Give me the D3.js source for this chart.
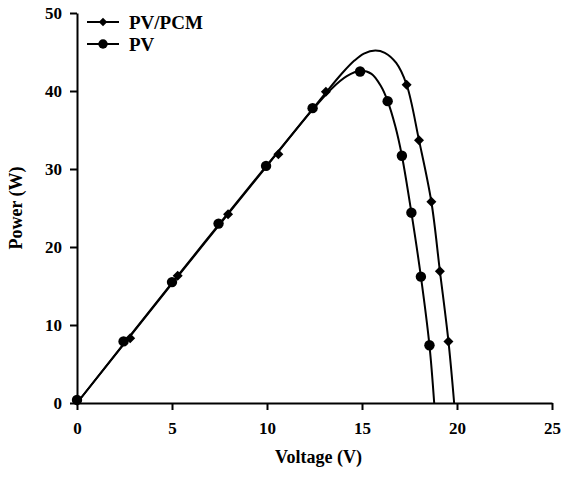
<!DOCTYPE html>
<html>
<head>
<meta charset="utf-8">
<script src="https://cdn.jsdelivr.net/npm/d3@7"></script>
<style>
  body { margin: 0; background: #fff; }
  svg text { font-family: "Liberation Serif", "Times New Roman", Times, serif; font-weight: bold; fill: #000; }
</style>
</head>
<body>
<div id="container"></div>
<script>
// measured points (markers)
const pvVoltage = [0, 2.45, 5.0, 7.45, 9.95, 12.4, 14.9, 16.35, 17.1, 17.6, 18.1, 18.55];
const pvPower = [0.4, 7.9, 15.5, 23.0, 30.4, 37.8, 42.5, 38.7, 31.7, 24.4, 16.2, 7.4];
const pcmVoltage = [0, 2.8, 5.3, 7.95, 10.6, 13.1, 17.35, 18.0, 18.65, 19.1, 19.55];
const pcmPower = [0.3, 8.3, 16.3, 24.2, 31.9, 39.9, 40.8, 33.7, 25.8, 16.9, 7.9];

// fitted curves
const pvFitV = [0, 5, 10, 12.4, 13.4, 14.2, 14.9, 15.5, 16.0, 16.35, 16.75, 17.1, 17.6, 18.1, 18.55, 18.8];
const pvFitP = [0, 15.3, 30.4, 37.6, 40.3, 41.9, 42.6, 42.2, 40.6, 38.7, 35.5, 31.7, 24.4, 16.2, 7.4, 0];
const pcmFitV = [0, 5, 10, 13.1, 14.0, 14.6, 15.1, 15.7, 16.2, 16.8, 17.35, 18.0, 18.65, 19.1, 19.55, 19.85];
const pcmFitP = [0, 15.4, 30.5, 39.8, 42.4, 43.9, 44.8, 45.2, 44.9, 43.6, 40.8, 33.7, 25.8, 16.9, 7.9, 0];

const xTicks = [0, 5, 10, 15, 20, 25];
const yTicks = [0, 10, 20, 30, 40, 50];
const seriesNames = ['PV/PCM', 'PV'];

const margin = { top: 13, right: 11, bottom: 78, left: 77 },
  width = 563 - margin.left - margin.right,
  height = 481 - margin.top - margin.bottom;

const svg = d3.select('#container').append('svg')
  .attr('width', 563)
  .attr('height', 481);

const g = svg.append('g')
  .attr('transform', 'translate(' + margin.left + ',' + margin.top + ')');

const x = d3.scaleLinear().domain([0, 25]).range([0, width]);
const y = d3.scaleLinear().domain([0, 50]).range([height, 0]);

const xAxis = g.append('g')
  .attr('transform', 'translate(0,' + height + ')')
  .call(d3.axisBottom(x).tickValues(xTicks).tickSize(7).tickPadding(12).tickSizeOuter(0));
const yAxis = g.append('g')
  .call(d3.axisLeft(y).tickValues(yTicks).tickSize(7).tickPadding(8).tickSizeOuter(0));

[xAxis, yAxis].forEach(function (a) {
  a.attr('font-family', null).attr('font-size', null);
  a.select('.domain').attr('stroke', '#000').attr('stroke-width', 2);
  a.selectAll('.tick line').attr('stroke', '#000').attr('stroke-width', 2);
  a.selectAll('.tick text')
    .style('font-size', '17px')
    .attr('fill', '#000');
});

g.append('text')
  .attr('x', width / 2 + 4)
  .attr('y', height + 60)
  .attr('text-anchor', 'middle')
  .style('font-size', '18px')
  .text('Voltage (V)');

g.append('text')
  .attr('transform', 'translate(' + (22 - margin.left) + ',' + (height / 2) + ') rotate(-90)')
  .attr('text-anchor', 'middle')
  .style('font-size', '18px')
  .text('Power (W)');

const line = d3.line()
  .x(d => x(d[0]))
  .y(d => y(d[1]))
  .curve(d3.curveCatmullRom.alpha(0.5));

const pcmFit = pcmFitV.map((v, i) => [v, pcmFitP[i]]);
const pvFit = pvFitV.map((v, i) => [v, pvFitP[i]]);

[pcmFit, pvFit].forEach(function (d) {
  g.append('path')
    .datum(d)
    .attr('fill', 'none')
    .attr('stroke', '#000')
    .attr('stroke-width', 2)
    .attr('d', line);
});

const diamond = d3.symbol().type(d3.symbolSquare).size(50);
const circle = d3.symbol().type(d3.symbolCircle).size(85);

g.selectAll('.pcm')
  .data(pcmVoltage.map((v, i) => [v, pcmPower[i]]))
  .enter().append('path')
  .attr('class', 'pcm')
  .attr('d', diamond)
  .attr('transform', d => 'translate(' + x(d[0]) + ',' + y(d[1]) + ') rotate(45)');

g.selectAll('.pv')
  .data(pvVoltage.map((v, i) => [v, pvPower[i]]))
  .enter().append('path')
  .attr('class', 'pv')
  .attr('d', circle)
  .attr('transform', d => 'translate(' + x(d[0]) + ',' + y(d[1]) + ')');

// legend
const legend = svg.append('g').attr('transform', 'translate(87,0)');
const legendY = [22, 44];
const legendSym = [d3.symbol().type(d3.symbolSquare).size(36), d3.symbol().type(d3.symbolCircle).size(70)];

seriesNames.forEach(function (name, i) {
  const row = legend.append('g').attr('transform', 'translate(0,' + legendY[i] + ')');
  row.append('line')
    .attr('x1', 0).attr('x2', 32)
    .attr('stroke', '#000').attr('stroke-width', 2);
  row.append('path')
    .attr('d', legendSym[i])
    .attr('transform', 'translate(16,0)' + (i === 0 ? ' rotate(45)' : ''));
  row.append('text')
    .attr('x', 42)
    .attr('dy', '0.35em')
    .style('font-size', '19px')
    .text(name);
});
</script>
</body>
</html>
